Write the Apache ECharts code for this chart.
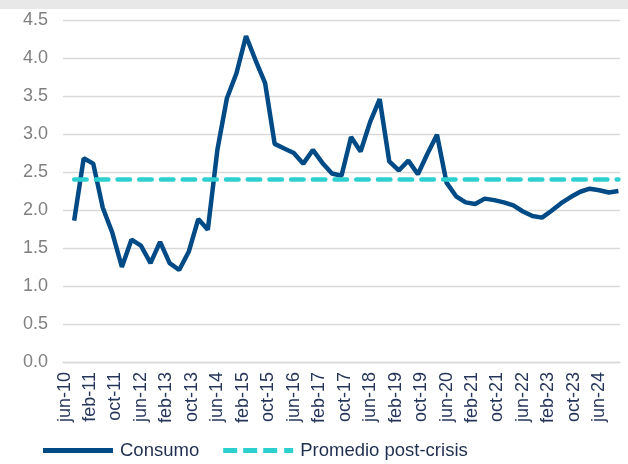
<!DOCTYPE html>
<html>
<head>
<meta charset="utf-8">
<script src="https://cdn.jsdelivr.net/npm/echarts@6/dist/echarts.min.js"></script>
<style>
  html, body { margin: 0; padding: 0; background: #fff; }
  #chart { width: 628px; height: 464px; }
</style>
</head>
<body>
<div id="chart"></div>
<script>
  // meses del eje (categorias mensuales jun-10 .. dic-24)
  var MESES = ['ene', 'feb', 'mar', 'abr', 'may', 'jun', 'jul', 'ago', 'sep', 'oct', 'nov', 'dic'];
  var primerAnio = 2010, primerMes = 5;   // jun-10
  var totalMeses = 175;                   // hasta dic-24

  // trimestres con dato
  var trimestres = [
    'sep-10', 'dic-10', 'mar-11', 'jun-11', 'sep-11', 'dic-11', 'mar-12', 'jun-12',
    'sep-12', 'dic-12', 'mar-13', 'jun-13', 'sep-13', 'dic-13', 'mar-14', 'jun-14',
    'sep-14', 'dic-14', 'mar-15', 'jun-15', 'sep-15', 'dic-15', 'mar-16', 'jun-16',
    'sep-16', 'dic-16', 'mar-17', 'jun-17', 'sep-17', 'dic-17', 'mar-18', 'jun-18',
    'sep-18', 'dic-18', 'mar-19', 'jun-19', 'sep-19', 'dic-19', 'mar-20', 'jun-20',
    'sep-20', 'dic-20', 'mar-21', 'jun-21', 'sep-21', 'dic-21', 'mar-22', 'jun-22',
    'sep-22', 'dic-22', 'mar-23', 'jun-23', 'sep-23', 'dic-23', 'mar-24', 'jun-24',
    'sep-24', 'dic-24'
  ];
  var consumo = [
    1.86, 2.68, 2.61, 2.03, 1.70, 1.25, 1.61, 1.53,
    1.30, 1.58, 1.30, 1.21, 1.45, 1.88, 1.74, 2.79,
    3.47, 3.80, 4.29, 3.97, 3.67, 2.87, 2.81, 2.75,
    2.61, 2.79, 2.62, 2.48, 2.45, 2.96, 2.77, 3.16,
    3.46, 2.64, 2.52, 2.65, 2.47, 2.74, 2.99, 2.36,
    2.18, 2.10, 2.08, 2.15, 2.13, 2.10, 2.06, 1.98,
    1.92, 1.90, 1.99, 2.09, 2.17, 2.24, 2.28, 2.26,
    2.23, 2.25
  ];
  // promedio post-crisis (inicio y fin)
  var promedioTramo = ['sep-10', 'dic-24'];
  var promedio = [2.4, 2.4];

  var yTicks = { min: 0, max: 4.5, interval: 0.5 };

  var meses = [];
  for (var i = 0; i < totalMeses; i++) {
    var m = (primerMes + i) % 12;
    var a = primerAnio + Math.floor((primerMes + i) / 12);
    meses.push(MESES[m] + '-' + String(a).slice(2));
  }

  var font = "'Liberation Sans', Arial, sans-serif";
  var azul = '#004a86', turquesa = '#2ecfcf';
  var chart = echarts.init(document.getElementById('chart'));

  var option = {
    animation: false,
    textStyle: { fontFamily: font },
    graphic: [{
      type: 'rect',
      left: 0, top: 0,
      shape: { width: 628, height: 9 },
      style: { fill: '#e8e8e8' },
      silent: true
    }],
    grid: { left: 63, right: 8, top: 20, bottom: 102 },
    legend: {
      left: 43,
      top: 441,
      padding: 0,
      itemWidth: 70,
      itemHeight: 5,
      itemGap: 24,
      textStyle: { fontFamily: font, fontSize: 18.5, color: '#1f2f4f', padding: [0, 0, 0, 2] },
      data: [
        { name: 'Consumo', icon: 'path://M0,0H70V5H0Z' },
        { name: 'Promedio post-crisis',
          icon: 'path://M0,0H14V5H0Z M20,0H34V5H20Z M40,0H54V5H40Z M61,0H70V5H61Z' }
      ]
    },
    xAxis: {
      type: 'category',
      data: meses,
      boundaryGap: true,
      axisLine: { lineStyle: { color: '#d9d9d9', width: 1.3 } },
      axisTick: { interval: 7, length: 5, lineStyle: { color: '#d9d9d9', width: 1.3 } },
      axisLabel: {
        interval: 7,
        rotate: 90,
        margin: 10,
        fontSize: 18,
        color: '#26365a',
        fontFamily: font
      },
      splitLine: { show: false }
    },
    yAxis: {
      type: 'value',
      min: yTicks.min,
      max: yTicks.max,
      interval: yTicks.interval,
      axisLine: { show: false },
      axisTick: { show: false },
      axisLabel: {
        margin: 15,
        fontSize: 18,
        color: '#808080',
        fontFamily: font,
        formatter: function (v) { return v.toFixed(1); }
      },
      splitLine: { lineStyle: { color: '#d9d9d9', width: 1.3 } }
    },
    series: [
      {
        name: 'Consumo',
        type: 'line',
        symbol: 'none',
        lineStyle: { color: azul, width: 4.5 },
        itemStyle: { color: azul },
        data: trimestres.map(function (q, k) { return [q, consumo[k]]; })
      },
      {
        name: 'Promedio post-crisis',
        type: 'line',
        symbol: 'none',
        lineStyle: { color: turquesa, width: 4.5, type: [12.5, 9.2], cap: 'round' },
        itemStyle: { color: turquesa },
        data: promedioTramo.map(function (q, k) { return [q, promedio[k]]; })
      }
    ]
  };
  chart.setOption(option);
</script>
</body>
</html>
